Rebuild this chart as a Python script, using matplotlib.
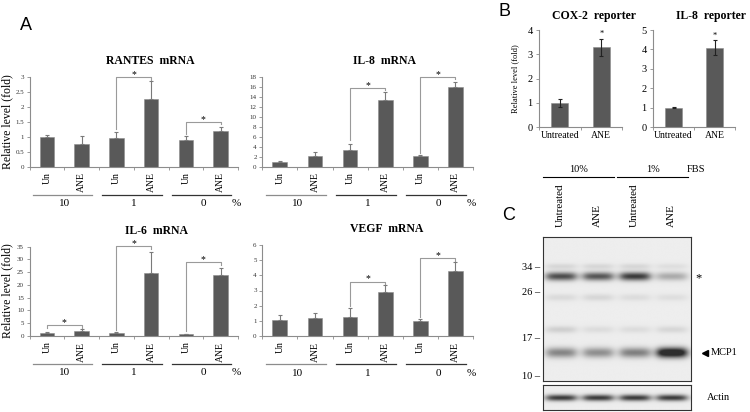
import matplotlib
matplotlib.use('Agg')
import matplotlib.pyplot as plt
import numpy as np

plt.rcParams['font.family'] = ['Liberation Serif', 'DejaVu Serif']

W, H = 750, 412

# panel A: qPCR, mean and upper error per bar
cats = ['Un', 'ANE', 'Un', 'ANE', 'Un', 'ANE']
fbs = ['10', '1', '0']

rantes = [1.0, 0.75, 0.95, 2.25, 0.9, 1.19]
rantes_err = [0.05, 0.27, 0.2, 0.6, 0.13, 0.12]
il8 = [0.9, 2.05, 3.25, 13.3, 2.05, 16.0]
il8_err = [0.3, 0.9, 1.2, 1.7, 0.28, 0.9]
il6 = [1.0, 2.1, 1.1, 24.5, 0.7, 23.9]
il6_err = [0.4, 0.8, 0.4, 8.3, 0.2, 2.7]
vegf = [1.04, 1.17, 1.26, 2.87, 1.0, 4.28]
vegf_err = [0.37, 0.35, 0.57, 0.48, 0.1, 0.59]

# significance brackets: (left bar, right bar, height, bottom of left leg)
rantes_sig = [(2, 3, 2.98, 1.25), (4, 5, 1.5, 1.1)]
il8_sig = [(2, 3, 15.8, 5.3), (4, 5, 18.0, 2.7)]
il6_sig = [(0, 1, 4.3, 3.3), (2, 3, 35.2, 2.3), (4, 5, 29.0, 1.9)]
vegf_sig = [(2, 3, 3.59, 2.0), (4, 5, 5.13, 1.24)]

# panel B: reporter assays
rep_cats = ['Untreated', 'ANE']
cox2 = [1.0, 3.3]
cox2_err = [0.18, 0.35]
il8_rep = [1.0, 4.1]
il8_rep_err = [0.03, 0.37]

# panel C: western blot, band darkness per lane
lanes = ['Untreated', 'ANE', 'Untreated', 'ANE']
lane_fbs = ['10%', '1%']
ladder = ['34', '26', '17', '10']
ladder_pos = [30, 55, 101, 139]
band_pos = [30, 40, 61, 93, 116]
band_sigma = [2.0, 3.0, 2.5, 2.5, 3.6]
band_level = [[0.12, 0.12, 0.12, 0.08],
              [0.85, 0.80, 0.95, 0.35],
              [0.10, 0.12, 0.09, 0.08],
              [0.16, 0.09, 0.09, 0.12],
              [0.55, 0.50, 0.58, 1.30]]
actin_level = [0.95, 0.95, 0.95, 0.95]

fig = plt.figure(figsize=(7.5, 4.12), dpi=100)


def box(x0, y0, x1, y1):
    return fig.add_axes([x0 / W, 1 - y1 / H, (x1 - x0) / W, (y1 - y0) / H])


def mrna(ax, title, vals, errs, sig, ymax, step, tx):
    x = np.arange(len(vals))
    ax.bar(x, vals, width=0.42, color='#595959', edgecolor='#8c8c8c', linewidth=0.4, zorder=2)
    ax.errorbar(x, vals, yerr=[np.zeros(len(errs)), errs], fmt='none', ecolor='#7a7a7a',
                elinewidth=0.8, capsize=1.5, capthick=0.8, zorder=3)
    ax.set_xlim(-0.5, len(vals) - 0.5)
    ax.set_ylim(0, ymax)
    ticks = np.arange(0, ymax + step / 2, step)
    ax.set_yticks(ticks)
    ax.set_yticklabels([f'{t:g}' for t in ticks], fontsize=5)
    ax.set_xticks(x)
    ax.set_xticklabels(cats, rotation=90, fontsize=7)
    ax.set_xticks(np.arange(-0.5, len(vals)), minor=True)
    ax.tick_params(axis='x', which='major', length=0, pad=4)
    ax.tick_params(axis='x', which='minor', length=2.5, color='#8c8c8c')
    ax.tick_params(axis='y', length=2.5, width=0.6, color='#8c8c8c', pad=1.5, labelcolor='#333333')
    for s in ['top', 'right']:
        ax.spines[s].set_visible(False)
    for s in ['left', 'bottom']:
        ax.spines[s].set_color('#8c8c8c')
        ax.spines[s].set_linewidth(0.8)
    ax.set_title(title, fontsize=8.5, fontweight='bold', pad=9, x=tx)
    for i, j, y, yb in sig:
        ax.plot([i, i, j, j], [yb, y, y, y - 0.03 * ymax], color='#9a9a9a', lw=0.8,
                clip_on=False, zorder=4)
        ax.text((i + j) / 2, y, '*', ha='center', va='baseline', fontsize=7)
    tr = ax.get_xaxis_transform()
    for k, g in enumerate(fbs):
        c = 2 * k + 0.5
        ax.plot([c - 0.9, c + 0.8], [-0.31, -0.31], transform=tr, clip_on=False,
                color='#8c8c8c' if k == 0 else '#333333', lw=0.9)
        ax.text(c, -0.41, g, transform=tr, ha='center', va='center', fontsize=8)
    ax.text(5.45, -0.41, '%', transform=tr, ha='center', va='center', fontsize=8)


def reporter(ax, title, vals, errs, ymax, tx):
    x = np.arange(len(vals))
    ax.bar(x, vals, width=0.4, color='#595959', edgecolor='#8c8c8c', linewidth=0.4, zorder=2)
    ax.errorbar(x, vals, yerr=errs, fmt='none', ecolor='#222222', elinewidth=0.8,
                capsize=1.5, capthick=0.8, zorder=3)
    ax.text(1, vals[1] + errs[1] + 0.03 * ymax, '*', ha='center', va='baseline', fontsize=6)
    ax.set_xlim(-0.5, len(vals) - 0.5)
    ax.set_ylim(0, ymax)
    ax.set_yticks(range(ymax + 1))
    ax.tick_params(axis='y', labelsize=7.5, length=2.5, width=0.6, color='#8c8c8c', pad=2)
    ax.set_xticks(x)
    ax.set_xticklabels(rep_cats, fontsize=7)
    ax.set_xticks([-0.5, 0.5, 1.5], minor=True)
    ax.tick_params(axis='x', which='major', length=0, pad=3)
    ax.tick_params(axis='x', which='minor', length=2.5, color='#8c8c8c')
    for s in ['top', 'right']:
        ax.spines[s].set_visible(False)
    for s in ['left', 'bottom']:
        ax.spines[s].set_color('#8c8c8c')
        ax.spines[s].set_linewidth(0.8)
    ax.set_title(title, fontsize=8.5, fontweight='bold', pad=8, x=tx)


def blot_image(positions, sigmas, levels, nrows):
    xs = np.linspace(0, len(lanes), 400)
    ys = np.linspace(0, nrows, nrows * 2)
    X, Y = np.meshgrid(xs, ys)
    dark = np.zeros_like(X)
    for pos, sg, lv in zip(positions, sigmas, levels):
        for k, v in enumerate(lv):
            horiz = 1 / (1 + np.exp(-(X - (k + 0.1)) / 0.07)) / (1 + np.exp((X - (k + 0.88)) / 0.07))
            dark += v * horiz * np.exp(-0.5 * ((Y - pos) / sg) ** 2)
    return 0.93 - 0.75 * np.clip(dark, 0, 1)


# ---- panel A
ax1 = box(29.5, 76.7, 238, 166.7)
mrna(ax1, 'RANTES  mRNA', rantes, rantes_err, rantes_sig, 3, 0.5, 0.58)
ax2 = box(262.3, 76.7, 473, 166.7)
mrna(ax2, 'IL-8  mRNA', il8, il8_err, il8_sig, 18, 2, 0.58)
ax3 = box(29.5, 246.7, 238, 336)
mrna(ax3, 'IL-6  mRNA', il6, il6_err, il6_sig, 35, 5, 0.61)
ax4 = box(262.3, 245, 473, 336)
mrna(ax4, 'VEGF  mRNA', vegf, vegf_err, vegf_sig, 6, 1, 0.59)

for yc in [121.7, 291]:
    fig.text(7 / W, 1 - yc / H, 'Relative level (fold)', rotation=90, ha='center', va='center', fontsize=8.5)

# ---- panel B
bx1 = box(539, 30, 622, 127.3)
reporter(bx1, 'COX-2  reporter', cox2, cox2_err, 4, 0.66)
bx2 = box(653, 30, 735, 127.3)
reporter(bx2, 'IL-8  reporter', il8_rep, il8_rep_err, 5, 0.71)
fig.text(515 / W, 1 - 78.7 / H, 'Relative level (fold)', rotation=90, ha='center', va='center', fontsize=6)

# ---- panel C
cb = box(542.7, 236.7, 690.7, 381)
nrows = 144
cb.imshow(blot_image(band_pos, band_sigma, band_level, nrows), cmap='gray', vmin=0, vmax=1,
          extent=(0, len(lanes), nrows, 0), aspect='auto', interpolation='bilinear')
cb.set_xlim(0, len(lanes))
cb.set_ylim(nrows, 0)
cb.set_xticks([])
cb.set_yticks(ladder_pos)
cb.set_yticklabels([f'{m} \u2013' for m in ladder], fontsize=7.5)
cb.tick_params(axis='y', length=0, pad=2)
for s in cb.spines.values():
    s.set_linewidth(0.8)
    s.set_color('#333333')

tr = cb.get_xaxis_transform()
for k, name in enumerate(lanes):
    cb.text(k + 0.47, 1.067, name, transform=tr, rotation=90, ha='center', va='bottom', fontsize=8)
for k, g in enumerate(lane_fbs):
    cb.plot([2 * k + 0.02, 2 * k + 1.92], [1.417, 1.417], transform=tr, clip_on=False, color='black', lw=0.8)
    cb.text(2 * k + 0.97, 1.468, g, transform=tr, ha='center', va='center', fontsize=7.5)
cb.text(4.13, 1.468, 'FBS', transform=tr, ha='center', va='center', fontsize=7.5)

ty = cb.get_yaxis_transform()
cb.text(1.05, band_pos[1] + 2, '*', transform=ty, ha='center', va='center', fontsize=9)
cb.plot([1.097], [band_pos[4]], marker='<', color='black', markersize=4.5, transform=ty, clip_on=False)
cb.text(1.135, band_pos[4], 'MCP1', transform=ty, ha='left', va='center', fontsize=7.5)

ca = box(542.7, 385.3, 690.7, 410)
arows = 25
ca.imshow(blot_image([12.8], [2.3], [actin_level], arows), cmap='gray', vmin=0, vmax=1,
          extent=(0, len(lanes), arows, 0), aspect='auto', interpolation='bilinear')
ca.set_xticks([])
ca.set_yticks([])
for s in ca.spines.values():
    s.set_linewidth(0.8)
    s.set_color('#333333')
ca.text(1.108, 0.5, 'Actin', transform=ca.transAxes, ha='left', va='center', fontsize=7.5)

# panel letters
for lab, x, y in [('A', 26, 26), ('B', 505, 11), ('C', 509, 215)]:
    fig.text(x / W, 1 - y / H, lab, fontsize=13, family='Liberation Sans', ha='center', va='center')

fig.savefig('out.png', dpi=100)
